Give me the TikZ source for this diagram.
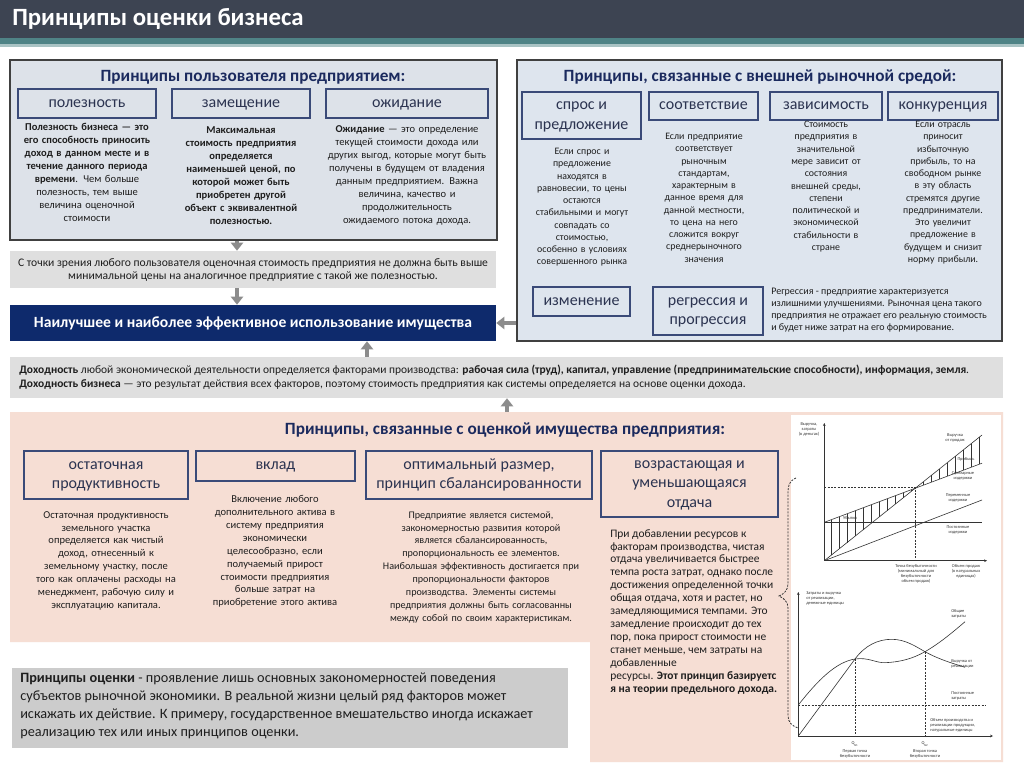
\documentclass[tikz,border=0pt]{standalone}
\usepackage{fontspec}
\setmainfont{Carlito}
\usetikzlibrary{arrows.meta,fit}
\definecolor{titlebar}{HTML}{3D4452}
\definecolor{stripeA}{HTML}{4F8386}
\definecolor{stripeB}{HTML}{A9C3C4}
\definecolor{panelA}{HTML}{DDE2E9}
\definecolor{panelB}{HTML}{DEE5EE}
\definecolor{boxline}{HTML}{3A4A78}
\definecolor{navytxt}{HTML}{1B2A5E}
\definecolor{navybox}{HTML}{0E2A6C}
\definecolor{graybox}{HTML}{DFDFDF}
\definecolor{notebox}{HTML}{CCCCCC}
\definecolor{pinkbg}{HTML}{F6DED4}
\definecolor{arrowgray}{HTML}{8C8C8C}
\definecolor{bodytxt}{HTML}{1E1E1E}
\definecolor{lbltxt}{HTML}{2B3350}
\definecolor{chartln}{HTML}{333333}
\newcommand\fsz[2]{\fontsize{#1}{#2}\selectfont}
\newcommand\ls{\rule[-3pt]{0pt}{11.8pt}}
\begin{document}
\begin{tikzpicture}[x=0.75pt,y=-0.75pt,
  panel/.style={draw=black!75,line width=0.8pt,inner sep=0pt},
  lbox/.style={draw=boxline,line width=0.9pt,inner sep=0pt},
  lbltext/.style={inner sep=0pt,align=center,text=lbltxt,font=\fsz{12}{14.5}},
  ptitle/.style={font=\bfseries\fsz{12.9}{14},text=navytxt,inner sep=0pt},
  coltext/.style={anchor=north,align=center,text=bodytxt,inner sep=0pt,text width=160pt},
  bigarrow/.style={draw=arrowgray,line width=3pt,-{Triangle[width=9pt,length=6pt]}},
  ax/.style={draw=chartln,line width=0.45pt,-{Stealth[length=2.2pt,width=2pt]}},
  cl/.style={draw=chartln,line width=0.45pt},
  hatch/.style={draw=chartln,line width=0.3pt},
  dsh/.style={draw=chartln,line width=0.4pt,dash pattern=on 1.5pt off 1pt},
  tiny/.style={font=\fsz{3.3}{3.8},text=chartln,align=center,inner sep=0pt}
]
\useasboundingbox (0,0) rectangle (1024,767);
\fill[white] (0,0) rectangle (1024,767);
% title bar
\fill[titlebar] (0,0) rectangle (1024,38);
\fill[stripeA] (0,38) rectangle (1024,44);
\fill[stripeB] (0,44) rectangle (1024,47);
\node[anchor=west,text=white,font=\bfseries\fsz{18.6}{21},inner sep=0pt] (title) at (12,19) {Принципы оценки бизнеса};

% ---------- panel 1
\node[panel,fill=panelA,fit={(10,60)(497,240)}] (p1) {};
\node[ptitle] (t1) at (253,77) {Принципы пользователя предприятием:};
\node[lbox,fit={(18,89)(156,118)}] (b11) {};
\node[lbltext] (b11t) at (b11.center) {\ls полезность};
\node[lbox,fit={(172,89)(310,118)}] (b12) {};
\node[lbltext] (b12t) at (b12.center) {\ls замещение};
\node[lbox,fit={(326,89)(488,118)}] (b13) {};
\node[lbltext] (b13t) at (b13.center) {\ls ожидание};
\node[coltext,font=\fsz{7.9}{9.75}] (c11) at (87,123) {\textbf{Полезность бизнеса — это}\\ \textbf{его способность приносить}\\ \textbf{доход в данном месте и в}\\ \textbf{течение данного периода}\\ \textbf{времени}. Чем больше\\ полезность, тем выше\\ величина оценочной\\ стоимости};
\node[coltext,font=\bfseries\fsz{7.9}{9.75}] (c12) at (241,126) {Максимальная\\ стоимость предприятия\\ определяется\\ наименьшей ценой, по\\ которой может быть\\ приобретен другой\\ объект с эквивалентной\\ полезностью.};
\node[coltext,font=\fsz{7.9}{9.75}] (c13) at (407,125) {\textbf{Ожидание} — это определение\\ текущей стоимости дохода или\\ других выгод, которые могут быть\\ получены в будущем от владения\\ данным предприятием. Важна\\ величина, качество и\\ продолжительность\\ ожидаемого потока дохода.};

% ---------- gray banner & navy box
\node[fill=graybox,inner sep=0pt,fit={(10,251)(496,288)}] (ban1) {};
\node[align=center,text=bodytxt,font=\fsz{8.7}{9.2},inner sep=0pt] (ban1t) at (253,270) {С точки зрения любого пользователя оценочная стоимость предприятия не должна быть выше\\ минимальной цены на аналогичное предприятие с такой же полезностью.};
\node[fill=navybox,inner sep=0pt,fit={(10,305)(496,341)}] (navy) {};
\node[text=white,font=\bfseries\fsz{11.7}{13},inner sep=0pt] (navyt) at (253,323) {Наилучшее и наиболее эффективное использование имущества};

% ---------- panel 2
\node[panel,fill=panelB,fit={(517,60)(1002,341)}] (p2) {};
\node[ptitle] (t2) at (760,77) {Принципы, связанные с внешней рыночной средой:};
\node[lbox,fit={(522,92)(641,139)}] (b21) {};
\node[lbltext] (b21t) at (b21.center) {\ls спрос и\\ \ls предложение};
\node[lbox,fit={(649,92)(758,120)}] (b22) {};
\node[lbltext] (b22t) at (b22.center) {\ls соответствие};
\node[lbox,fit={(770,92)(882,120)}] (b23) {};
\node[lbltext] (b23t) at (b23.center) {\ls зависимость};
\node[lbox,fit={(888,92)(998,120)}] (b24) {};
\node[lbltext] (b24t) at (b24.center) {\ls конкуренция};
\node[coltext,font=\fsz{7.4}{9.2}] (c21) at (582,148) {Если спрос и\\ предложение\\ находятся в\\ равновесии, то цены\\ остаются\\ стабильными и могут\\ совпадать со\\ стоимостью,\\ особенно в условиях\\ совершенного рынка};
\node[coltext,font=\fsz{7.4}{9.2}] (c22) at (704,133) {Если предприятие\\ соответствует\\ рыночным\\ стандартам,\\ характерным в\\ данное время для\\ данной местности,\\ то цена на него\\ сложится вокруг\\ среднерыночного\\ значения};
\node[coltext,font=\fsz{7.4}{9.2}] (c23) at (826,121) {Стоимость\\ предприятия в\\ значительной\\ мере зависит от\\ состояния\\ внешней среды,\\ степени\\ политической и\\ экономической\\ стабильности в\\ стране};
\node[coltext,font=\fsz{7.4}{9.2}] (c24) at (943,121) {Если отрасль\\ приносит\\ избыточную\\ прибыль, то на\\ свободном рынке\\ в эту область\\ стремятся другие\\ предприниматели.\\ Это увеличит\\ предложение в\\ будущем и снизит\\ норму прибыли.};
\node[lbox,fit={(533,287)(630,316)}] (b25) {};
\node[lbltext] (b25t) at (b25.center) {\ls изменение};
\node[lbox,fit={(653,287)(763,335)}] (b26) {};
\node[lbltext] (b26t) at (b26.center) {\ls регрессия и\\ \ls прогрессия};
\node[anchor=north west,align=left,text=bodytxt,font=\fsz{7.5}{9},inner sep=0pt] (c26) at (771,288) {Регрессия - предприятие характеризуется\\ излишними улучшениями. Рыночная цена такого\\ предприятия не отражает его реальную стоимость\\ и будет ниже затрат на его формирование.};

% ---------- income banner
\node[fill=graybox,inner sep=0pt,fit={(10,357)(1003,398)}] (ban2) {};
\node[anchor=north west,align=left,text=bodytxt,font=\fsz{8.6}{10.5},inner sep=0pt] (ban2t) at (19,365) {\textbf{Доходность} любой экономической деятельности определяется факторами производства: \textbf{рабочая сила (труд), капитал, управление (предпринимательские способности), информация, земля}.\\ \textbf{Доходность бизнеса} — это результат действия всех факторов, поэтому стоимость предприятия как системы определяется на основе оценки дохода.};

% ---------- pink panel
\fill[pinkbg] (10,412) -| (1003,762) -| (590,642) -| cycle;
\node[inner sep=0pt,fit={(10,412)(1003,642)}] (p3) {};
\node[ptitle] (t3) at (505,430) {Принципы, связанные с оценкой имущества предприятия:};
\node[lbox,fit={(24,451)(188,499)}] (b31) {};
\node[lbltext] (b31t) at (b31.center) {\ls остаточная\\ \ls продуктивность};
\node[lbox,fit={(196,451)(355,481)}] (b32) {};
\node[lbltext] (b32t) at (b32.center) {\ls вклад};
\node[lbox,fit={(366,451)(592,499)}] (b33) {};
\node[lbltext] (b33t) at (b33.center) {\ls оптимальный размер,\\ \ls принцип сбалансированности};
\node[lbox,fit={(601,451)(778,517)}] (b34) {};
\node[lbltext] (b34t) at (b34.center) {\ls возрастающая и\\ \ls уменьшающаяся\\ \ls отдача};
\node[coltext,font=\fsz{7.9}{9.7}] (c31) at (106,511) {Остаточная продуктивность\\ земельного участка\\ определяется как чистый\\ доход, отнесенный к\\ земельному участку, после\\ того как оплачены расходы на\\ менеджмент, рабочую силу и\\ эксплуатацию капитала.};
\node[coltext,font=\fsz{7.9}{9.7}] (c32) at (275,495) {Включение любого\\ дополнительного актива в\\ систему предприятия\\ экономически\\ целесообразно, если\\ получаемый прирост\\ стоимости предприятия\\ больше затрат на\\ приобретение этого актива};
\node[coltext,font=\fsz{7.6}{9.7},text width=190pt] (c33) at (481,511) {Предприятие является системой,\\ закономерностью развития которой\\ является сбалансированность,\\ пропорциональность ее элементов.\\ Наибольшая эффективность достигается при\\ пропорциональности факторов\\ производства. Элементы системы\\ предприятия должны быть согласованны\\ между собой по своим характеристикам.};
\node[anchor=north west,align=left,text=bodytxt,font=\fsz{8.6}{9.7},inner sep=0pt] (c34) at (610,529) {При добавлении ресурсов к\\ факторам производства, чистая\\ отдача увеличивается быстрее\\ темпа роста затрат, однако после\\ достижения определенной точки\\ общая отдача, хотя и растет, но\\ замедляющимися темпами. Это\\ замедление происходит до тех\\ пор, пока прирост стоимости не\\ станет меньше, чем затраты на\\ добавленные\\ ресурсы. \textbf{Этот принцип базируетс}\\ \textbf{я на теории предельного дохода.}};

% ---------- note box
\node[fill=notebox,inner sep=0pt,fit={(12,668)(568,748)}] (note) {};
\node[anchor=north west,align=left,text=bodytxt,font=\fsz{10.7}{13.5},inner sep=0pt] (notet) at (20,673) {\textbf{Принципы оценки} - проявление лишь основных закономерностей поведения\\ субъектов рыночной экономики. В реальной жизни целый ряд факторов может\\ искажать их действие. К примеру, государственное вмешательство иногда искажает\\ реализацию тех или иных принципов оценки.};

% ---------- arrows
\coordinate (ax1) at (237,0);
\coordinate (ax2) at (367,0);
\coordinate (ax3) at (507,0);
\draw[bigarrow] (p1.south -| ax1) -- (ban1.north -| ax1);
\draw[bigarrow] (ban1.south -| ax1) -- (navy.north -| ax1);
\draw[bigarrow] (p2.west |- navy.east) -- (navy.east);
\draw[bigarrow] (ban2.north -| ax2) -- (navy.south -| ax2);
\draw[bigarrow] (p3.north -| ax3) -- (ban2.south -| ax3);

% ---------- charts
\fill[white] (791,415) rectangle (1001,760);
% chart 1
\draw[ax] (824.3,560.7) -- (824.3,423);
\draw[ax] (824.3,560.7) -- (987,560.7);
\draw[cl] (824.3,560.7) -- (982,435);
\draw[cl] (824.3,522.3) -- (982,463.2);
\draw[cl] (824.3,522.3) -- (982,522.3);
\draw[cl] (824.3,560.7) -- (982,500);
\draw[dsh] (824.3,487.6) -- (915.7,487.6) -- (915.7,560.7);
\foreach \x in {831,839,...,911}
  \draw[hatch] (\x,{560.7-0.7986*(\x-824.3)}) -- (\x,{522.3-0.3748*(\x-824.3)});
\foreach \x in {923,931,...,979}
  \draw[hatch] (\x,{560.7-0.7986*(\x-824.3)}) -- (\x,{522.3-0.3748*(\x-824.3)});
\node[tiny,anchor=north] (l1) at (809,422) {Выручка,\\ затраты\\ (в деньгах)};
\node[tiny] (l2) at (955,438) {Выручка\\ от продаж};
\node[tiny] (l3) at (966,459) {Прибыль};
\node[tiny] (l4) at (963,476) {Суммарные\\ издержки};
\node[tiny] (l5) at (958,498) {Переменные\\ издержки};
\node[tiny] (l6) at (958,530) {Постоянные\\ издержки};
\node[tiny] (l7) at (850,518) {Убытки};
\node[tiny,anchor=north] (l8) at (916,564) {Точка безубыточности\\ (минимальный для\\ безубыточности\\ объем продаж)};
\node[tiny,anchor=north] (l9) at (966,564) {Объем продаж\\ (в натуральных\\ единицах)};
% chart 2
\draw[ax] (798.3,736) -- (798.3,592);
\draw[ax] (798.3,736) -- (993,736);
\draw[dsh] (798.3,705) -- (986,705);
\draw[cl] (798.3,736) -- (855,659) .. controls (865,645.4) and (878,639.3) .. (891.7,639.3) .. controls (905,639.3) and (915,646) .. (925,651.7) .. controls (940,660) and (955,664) .. (965,667.3);
\draw[cl] (798.3,705) .. controls (818,680) and (836,662) .. (855,659) .. controls (868,657) and (876,663) .. (885,662.7) .. controls (900,662) and (912,659) .. (925,651.7) .. controls (940,643) and (953,632) .. (965,621.7);
\draw[dsh] (855,659) -- (855,736);
\draw[dsh] (925,651.7) -- (925,736);
\node[tiny,anchor=north west,align=left] (m1) at (806,591) {Затраты и выручка\\ от реализации,\\ денежные единицы};
\node[tiny,anchor=west,align=left] (m2) at (951,614) {Общие\\ затраты};
\node[tiny,anchor=west,align=left] (m3) at (951,664) {Выручка от\\ реализации};
\node[tiny,anchor=west,align=left] (m4) at (951,696) {Постоянные\\ затраты};
\node[tiny,anchor=west,align=left] (m5) at (930,725) {Объем производства и\\ реализации продукции,\\ натуральные единицы};
\node[tiny] (m6) at (855,744) {Q\textsubscript{Б1}};
\node[tiny] (m7) at (925,744) {Q\textsubscript{Б2}};
\node[tiny,anchor=north] (m8) at (855,749) {Первая точка\\ безубыточности};
\node[tiny,anchor=north] (m9) at (925,749) {Вторая точка\\ безубыточности};
% dashed brace
\draw[dsh,line width=0.6pt] (796,478) .. controls (789,481) and (788,486) .. (788,492) -- (788,584) .. controls (788,590) and (784,594) .. (779,596) .. controls (784,598) and (788,602) .. (788,608) -- (788,716) .. controls (788,722) and (792,726) .. (798,728);
\end{tikzpicture}
\end{document}
